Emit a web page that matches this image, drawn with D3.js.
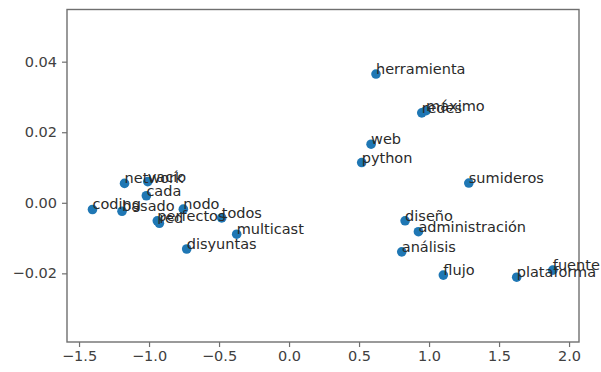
<!DOCTYPE html>
<html>
<head>
<meta charset="utf-8">
<script src="https://cdn.jsdelivr.net/npm/d3@7"></script>
<style>
  html, body { margin: 0; padding: 0; background: #fff; }
  svg { display: block; }
  text { font-family: "DejaVu Sans", sans-serif; }
</style>
</head>
<body>
<svg id="chart" width="601" height="372"></svg>
<script>
// Word embedding projection: each word placed at its 2-D coordinates
const words = [
  "herramienta", "redes", "máximo", "web", "python", "sumideros",
  "diseño", "administración", "análisis", "flujo", "plataforma", "fuente",
  "network", "vacío", "cada", "coding", "basado", "perfectos", "red",
  "nodo", "todos", "multicast", "disyuntas"
];
const xs = [
  0.621, 0.948, 0.979, 0.586, 0.519, 1.284,
  0.829, 0.924, 0.805, 1.102, 1.626, 1.884,
  -1.175, -1.009, -1.019, -1.404, -1.193, -0.941, -0.926,
  -0.755, -0.481, -0.374, -0.731
];
const ys = [
  0.0365, 0.0255, 0.0261, 0.0166, 0.0114, 0.0056,
  -0.0051, -0.0082, -0.0139, -0.0205, -0.0211, -0.0191,
  0.0055, 0.0060, 0.0020, -0.0019, -0.0024, -0.0051, -0.0058,
  -0.0018, -0.0043, -0.0089, -0.0131
];
const xTicks = [-1.5, -1.0, -0.5, 0.0, 0.5, 1.0, 1.5, 2.0];
const yTicks = [-0.02, 0.00, 0.02, 0.04];

const points = words.map((w, i) => ({ word: w, x: xs[i], y: ys[i] }));

const svg = d3.select("#chart");
const plotLeft = 67, plotRight = 579, plotTop = 9.5, plotBottom = 342;

const x = d3.scaleLinear().domain([-1.586, 2.071]).range([plotLeft, plotRight]);
const y = d3.scaleLinear().domain([-0.03946, 0.05479]).range([plotBottom, plotTop]);

const minus = s => s.replace("-", "\u2212");
const fontSize = 14.5;
const axisColor = "#6f6f6f";
const tickText = "#404040";

// x axis
const xAxis = svg.append("g")
  .attr("transform", `translate(0,${plotBottom})`)
  .call(d3.axisBottom(x).tickValues(xTicks).tickSize(5).tickPadding(4)
    .tickFormat(d => minus(d3.format(".1f")(d))));
// y axis
const yAxis = svg.append("g")
  .attr("transform", `translate(${plotLeft},0)`)
  .call(d3.axisLeft(y).tickValues(yTicks).tickSize(5).tickPadding(5)
    .tickFormat(d => minus(d3.format(".2f")(d))));

[xAxis, yAxis].forEach(g => {
  g.select(".domain").remove();
  g.selectAll(".tick line").attr("stroke", axisColor).attr("stroke-width", 1.2);
  g.selectAll(".tick text")
    .attr("fill", tickText)
    .style("font-size", fontSize + "px")
    .style("font-family", "'DejaVu Sans', sans-serif");
});

// frame around the plotting area
svg.append("rect")
  .attr("x", plotLeft).attr("y", plotTop)
  .attr("width", plotRight - plotLeft).attr("height", plotBottom - plotTop)
  .attr("fill", "none")
  .attr("stroke", axisColor)
  .attr("stroke-width", 1.4);

// points
svg.append("g").selectAll("circle")
  .data(points)
  .join("circle")
  .attr("cx", d => x(d.x))
  .attr("cy", d => y(d.y))
  .attr("r", 4.8)
  .attr("fill", "#1f77b4");

// word labels, anchored at the point on their baseline
svg.append("g").selectAll("text")
  .data(points)
  .join("text")
  .attr("x", d => x(d.x))
  .attr("y", d => y(d.y))
  .attr("fill", "#2a2a2a")
  .style("font-size", fontSize + "px")
  .text(d => d.word);
</script>
</body>
</html>
